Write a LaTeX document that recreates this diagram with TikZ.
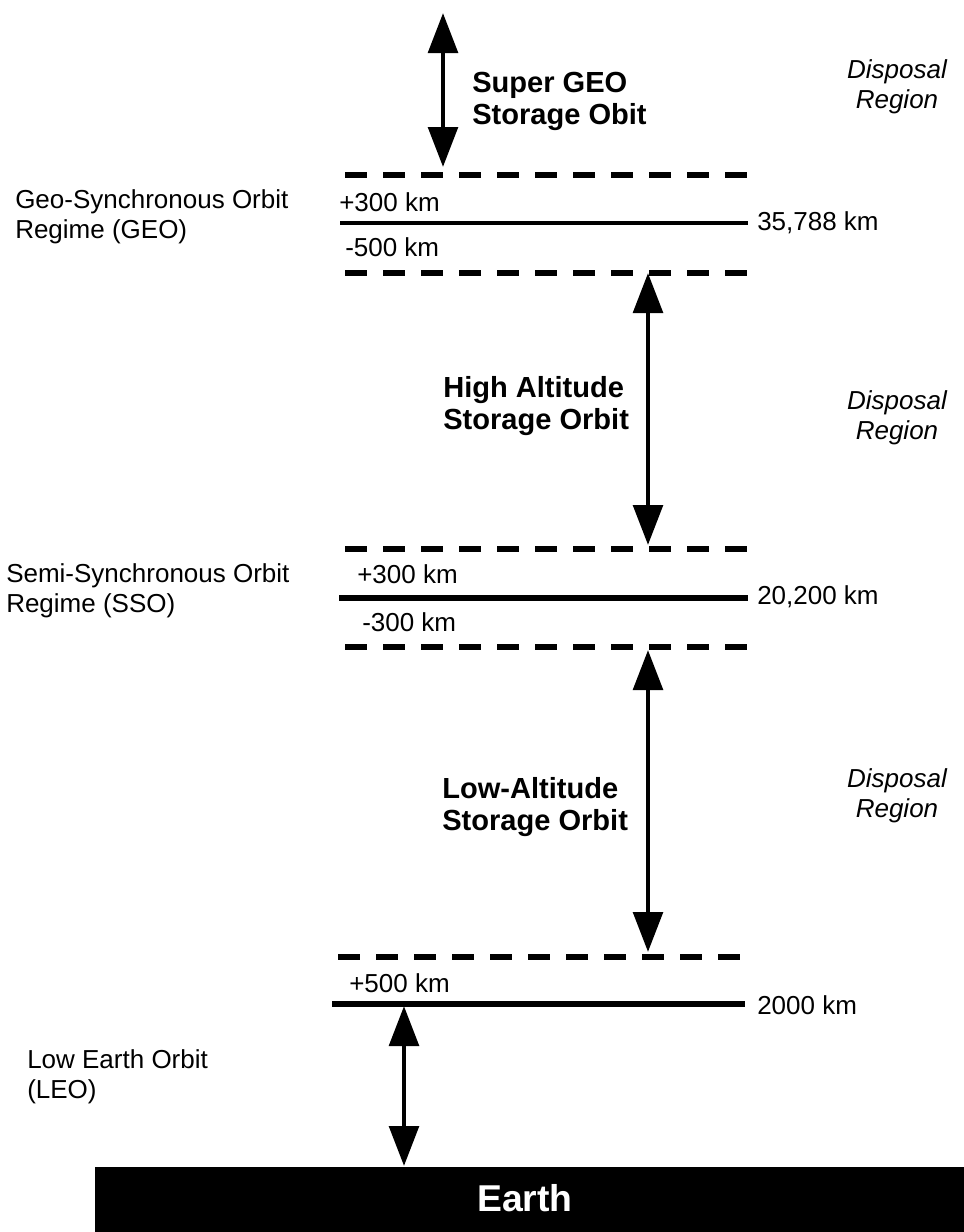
\documentclass[tikz,border=0pt]{standalone}
\usepackage{fontspec}
\setmainfont{Liberation Sans}
\usetikzlibrary{arrows.meta,positioning}
\tikzset{
  orbitdash/.style={line width=4pt,dash pattern=on 16.5pt off 12pt},
  storearrow/.style={{Triangle[width=22pt,length=30pt]}-{Triangle[width=22pt,length=30pt]},line width=3.6pt},
  km/.style={anchor=west,inner sep=0pt,font=\fontsize{19.5}{22.5}\selectfont},
  regime/.style={km,align=left},
  storage/.style={anchor=west,inner sep=0pt,align=left,font=\bfseries\fontsize{21.8}{24}\selectfont},
  disposal/.style={inner sep=0pt,align=center,font=\itshape\fontsize{19.5}{22.5}\selectfont}
}
\begin{document}
\begin{tikzpicture}[x=0.75pt,y=-0.75pt]
	\useasboundingbox (0,0) rectangle (964,1232);
	% GEO band
	\draw[orbitdash] (345,175) -- (752,175);
	\draw[line width=2.3pt] (340,223) -- (748,223);
	\draw[orbitdash] (345,273) -- (752,273);
	% SSO band
	\draw[orbitdash] (345,549) -- (752,549);
	\draw[line width=4.5pt] (339,598) -- (748,598);
	\draw[orbitdash] (345,647) -- (752,647);
	% LEO
	\draw[orbitdash] (338,957) -- (745,957);
	\draw[line width=3.8pt] (332,1004) -- (745,1004);
	\fill (95,1167) rectangle (964,1232);
	\node[text=white,font=\bfseries\fontsize{28}{30}\selectfont] (earth) at (525,1198) {Earth};
	\node[km] (geoplus) at (339,202) {+300 km};
	\node[km] (geominus) at (345,247) {-500 km};
	\node[km] (geokm) at (757,223) {35,788 km};
	\node[km] (ssoplus) at (357,574) {+300 km};
	\node[km] (ssominus) at (362,622) {-300 km};
	\node[km] (ssokm) at (757,597) {20,200 km};
	\node[km] (leoplus) at (349,983) {+500 km};
	\node[km] (leokm) at (757,1005) {2000 km};
	\node[regime] (geo) at (15,217) {Geo-Synchronous Orbit\\Regime (GEO)};
	\node[regime] (sso) at (6,591) {Semi-Synchronous Orbit\\Regime (SSO)};
	\node[regime] (leo) at (27,1077) {Low Earth Orbit\\(LEO)};
	\node[storage] (supergeo) at (472,101) {Super GEO\\Storage Obit};
	\node[storage] (highalt) at (443,406) {High Altitude\\Storage Orbit};
	\node[storage] (lowalt) at (442,807) {Low-Altitude\\Storage Orbit};
	\node[disposal] (dispsuper) at (897,87) {Disposal\\Region};
	\node[disposal] (disphigh) at (897,418) {Disposal\\Region};
	\node[disposal] (displow) at (897,796) {Disposal\\Region};
	% storage arrows
	\coordinate (supertop) at (443,13);
	\coordinate (superbot) at (443,167);
	\coordinate (hightop) at (648,273);
	\coordinate (highbot) at (648,545);
	\coordinate (lowtop) at (648,650);
	\coordinate (lowbot) at (648,952);
	\coordinate (leotop) at (404,1006);
	\coordinate (leobot) at (404,1166);
	\draw[storearrow] (supertop) -- (superbot);
	\draw[storearrow] (hightop) -- (highbot);
	\draw[storearrow] (lowtop) -- (lowbot);
	\draw[storearrow] (leotop) -- (leobot);
\end{tikzpicture}
\end{document}
